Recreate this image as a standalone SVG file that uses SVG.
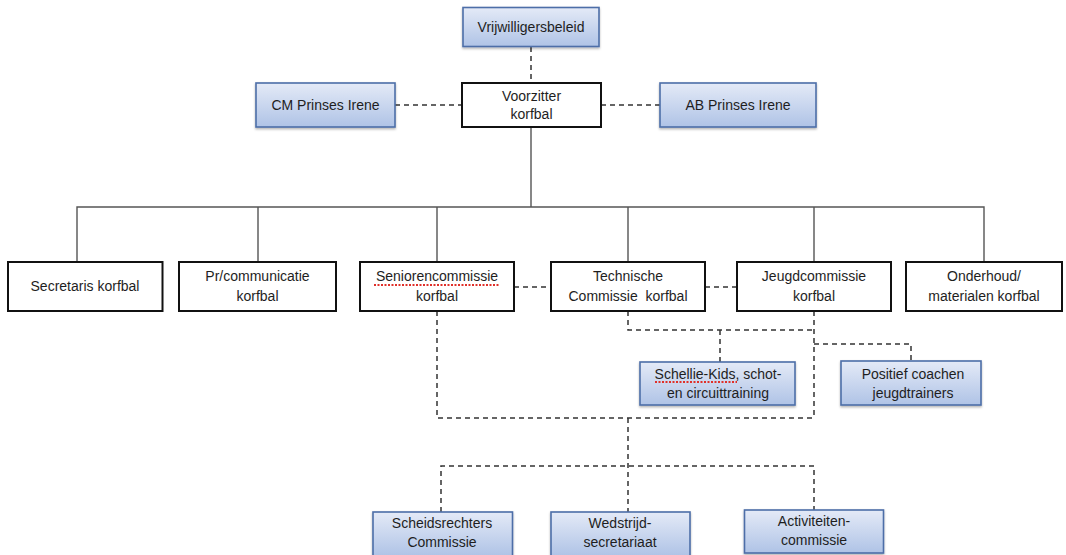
<svg xmlns="http://www.w3.org/2000/svg" width="1066" height="555" viewBox="0 0 1066 555">
<defs>
<linearGradient id="blueGrad" x1="0" y1="0" x2="0" y2="1">
<stop offset="0" stop-color="#e4eaf7"/>
<stop offset="1" stop-color="#afc3e6"/>
</linearGradient>
<filter id="sh" x="-10%" y="-10%" width="120%" height="130%">
<feDropShadow dx="0" dy="1.5" stdDeviation="1" flood-color="#000" flood-opacity="0.3"/>
</filter>
<style>
.w{fill:#fff;stroke:#111;stroke-width:2}
.b{fill:url(#blueGrad);stroke:#4d6ea8;stroke-width:1.6;filter:url(#sh)}
.t{font-family:"Liberation Sans",Arial,sans-serif;font-size:14px;fill:#1e1e1e;text-anchor:middle;white-space:pre}
.s{fill:none;stroke:#555;stroke-width:1.4}
.d{fill:none;stroke:#333;stroke-width:1.5;stroke-dasharray:5,4}
.sp{fill:none;stroke:#e0302a;stroke-width:1.8;stroke-dasharray:2,1.5}
</style>
</defs>
<g id="connectors">
<path class="s" d="M531 127V207M77 262V207H984V262M258 207V262M437 207V262M628 207V262M814 207V262"/>
<path class="d" d="M531 47V82"/>
<path class="d" d="M395 105H461"/>
<path class="d" d="M601 105H660"/>
<path class="d" d="M514 287H551"/>
<path class="d" d="M705 287H737"/>
<path class="d" d="M628 311V330H814"/>
<path class="d" d="M814 311V418"/>
<path class="d" d="M720 330V362"/>
<path class="d" d="M814 344H911V361"/>
<path class="d" d="M437 311V418H814"/>
<path class="d" d="M628 418V512"/>
<path class="d" d="M441 512V466H814V510"/>
</g>
<g id="vrijwilligersbeleid"><rect class="b" x="463" y="7.5" width="136" height="39"/><text class="t" x="531" y="32">Vrijwilligersbeleid</text></g>
<g id="voorzitter"><rect class="w" x="462" y="83" width="139" height="44"/><text class="t" x="531.5" y="101">Voorzitter</text><text class="t" x="531.5" y="119">korfbal</text></g>
<g id="cm"><rect class="b" x="256" y="83" width="139" height="44"/><text class="t" x="325.5" y="110">CM Prinses Irene</text></g>
<g id="ab"><rect class="b" x="660" y="83" width="156" height="44"/><text class="t" x="738" y="110">AB Prinses Irene</text></g>
<g id="secretaris"><rect class="w" x="8" y="262" width="154.5" height="49"/><text class="t" x="85" y="291">Secretaris korfbal</text></g>
<g id="pr"><rect class="w" x="179" y="262" width="157" height="49"/><text class="t" x="257.5" y="281">Pr/communicatie</text><text class="t" x="257.5" y="301">korfbal</text></g>
<g id="senioren"><rect class="w" x="360" y="262" width="154" height="49"/><text class="t" x="437" y="281">Seniorencommissie</text><path class="sp" d="M374 285H499"/><text class="t" x="437" y="301">korfbal</text></g>
<g id="technische"><rect class="w" x="551" y="262" width="154" height="49"/><text class="t" x="628" y="281">Technische</text><text class="t" x="628" y="301" xml:space="preserve">Commissie  korfbal</text></g>
<g id="jeugd"><rect class="w" x="737" y="262" width="154" height="49"/><text class="t" x="814" y="281">Jeugdcommissie</text><text class="t" x="814" y="301">korfbal</text></g>
<g id="onderhoud"><rect class="w" x="906" y="262" width="156" height="49"/><text class="t" x="984" y="281">Onderhoud/</text><text class="t" x="984" y="301">materialen korfbal</text></g>
<g id="schellie"><rect class="b" x="640" y="362" width="155" height="43"/><text class="t" x="718" y="379">Schellie-Kids, schot-</text><path class="sp" d="M655 382H737"/><text class="t" x="718" y="398">en circuittraining</text></g>
<g id="positief"><rect class="b" x="841" y="361" width="140" height="44"/><text class="t" x="913" y="379">Positief coachen</text><text class="t" x="913" y="398">jeugdtrainers</text></g>
<g id="scheidsrechters"><rect class="b" x="373" y="512" width="139.5" height="44"/><text class="t" x="442" y="528">Scheidsrechters</text><text class="t" x="442" y="547">Commissie</text></g>
<g id="wedstrijd"><rect class="b" x="551" y="512" width="139" height="44"/><text class="t" x="620" y="528">Wedstrijd-</text><text class="t" x="620" y="547">secretariaat</text></g>
<g id="activiteiten"><rect class="b" x="744.5" y="510" width="139" height="43"/><text class="t" x="814" y="526">Activiteiten-</text><text class="t" x="814" y="545">commissie</text></g>
</svg>
